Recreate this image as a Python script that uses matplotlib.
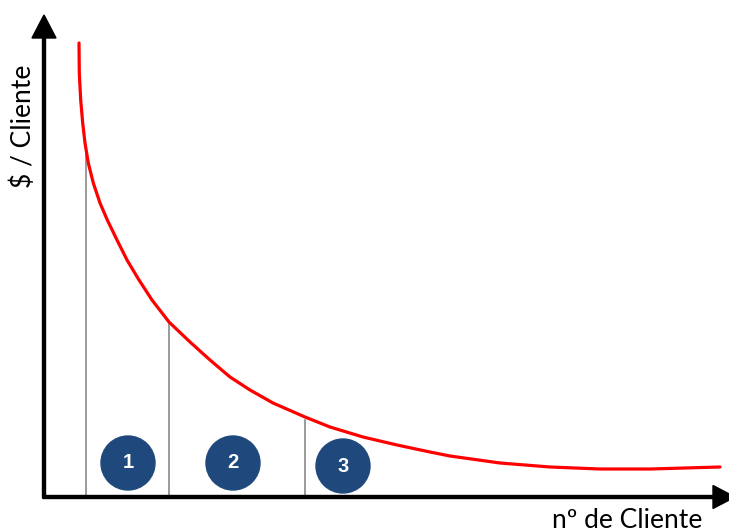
import matplotlib
matplotlib.use("Agg")
import matplotlib.pyplot as plt
from matplotlib.patches import Circle

plt.rcParams['font.family'] = ['Lato', 'DejaVu Sans']

# curve (x = clients, y = $ per client, arbitrary units)
curve_x = [35, 35.3, 36.7, 38.7, 41, 44.3, 49.3, 56, 63.3, 73, 83, 95, 108, 125, 146,
           166, 186, 206, 229, 261, 286, 319, 353, 386, 406, 456, 506, 556, 606, 676]
curve_y = [454, 424, 397, 374, 354, 334, 314, 294, 277, 257, 237, 217, 197, 175, 155,
           137, 120, 107, 94, 80, 70, 60, 52, 45, 41, 34, 30, 28, 28, 30]

# vertical markers (segment boundaries) and their heights
marker_x = [41.7, 125, 261]
marker_top = [349, 175, 77]
marker_bottom = [0, 0, 2]

# numbered badges
badge_x = [84, 189, 299]
badge_y = [34, 34, 31]
badge_labels = ["1", "2", "3"]

fig = plt.figure(figsize=(7.29, 5.32), dpi=100)
ax = fig.add_axes([0, 0, 1, 1])
ax.set_xlim(-44, 685)
ax.set_ylim(-35, 497)
ax.axis("off")

# axes with arrow heads
ax.arrow(0, -1, 0, 483, width=3, head_width=24, head_length=23,
         length_includes_head=True, color="black", zorder=3)
ax.arrow(-1, 0, 692, 0, width=3, head_width=23, head_length=22,
         length_includes_head=True, color="black", zorder=3, clip_on=False)

for x, top, bot in zip(marker_x, marker_top, marker_bottom):
    ax.plot([x, x], [bot, top], color="#808080", lw=1.1, zorder=1)

ax.plot(curve_x, curve_y, color="#ff0000", lw=2.3, solid_capstyle="round",
        solid_joinstyle="round", zorder=2)

for x, y, lab in zip(badge_x, badge_y, badge_labels):
    ax.add_patch(Circle((x, y), 27, color="#1f497d", zorder=4))
    ax.text(x, y, lab, color="white", fontsize=14.5, fontweight="bold",
            family="Liberation Sans", ha="center", va="center", zorder=5)

ax.text(-21, 371, "$ / Cliente", rotation=90, fontsize=19,
        ha="center", va="center")
ax.text(583, -31, "nº de Cliente", fontsize=19, ha="center", va="baseline")

fig.savefig("out.png", dpi=100)
